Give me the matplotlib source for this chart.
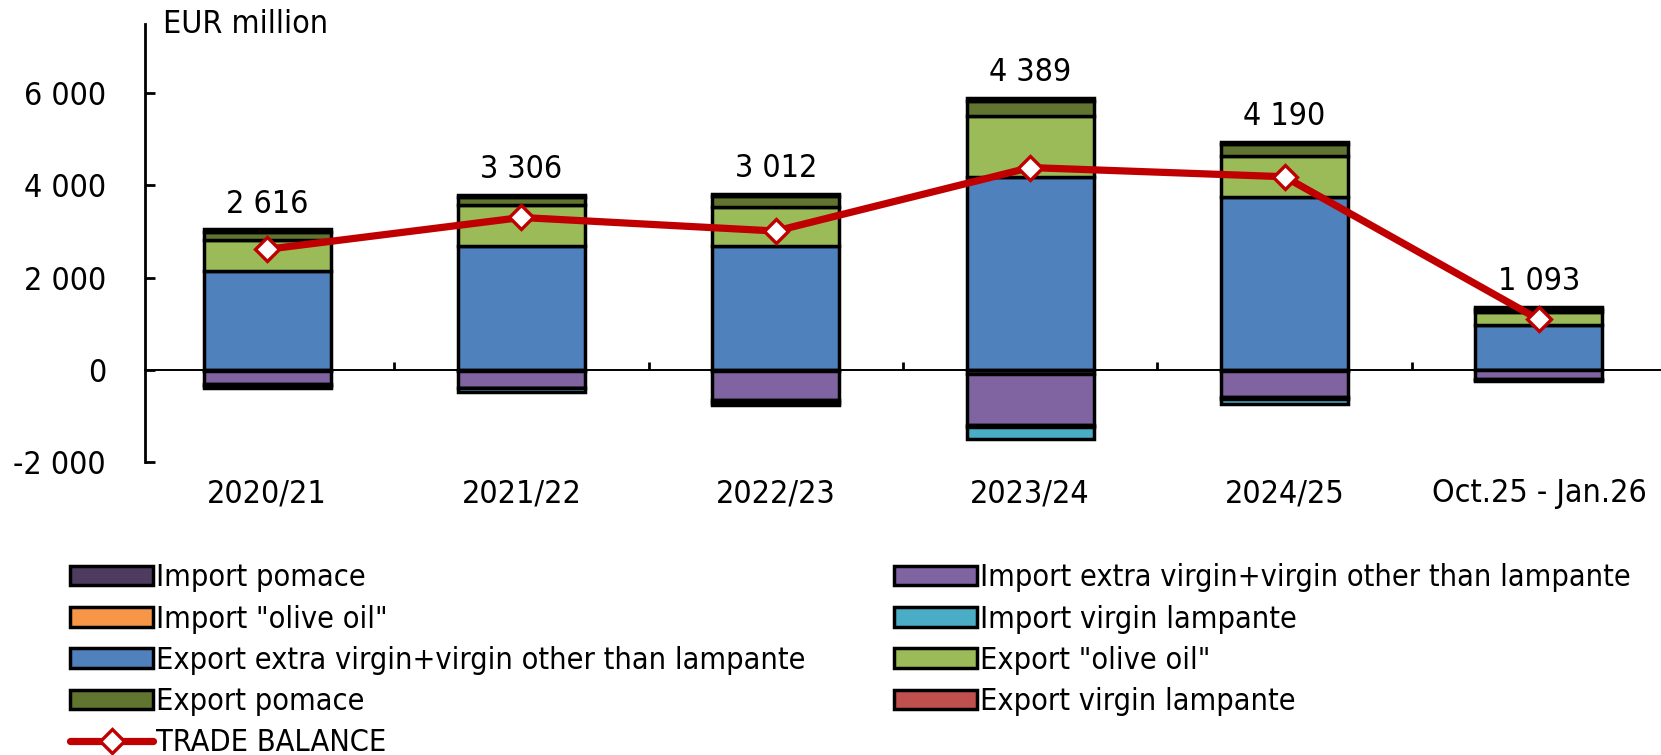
import numpy as np
import matplotlib
matplotlib.use("Agg")
import matplotlib.pyplot as plt
import matplotlib.transforms as mtransforms
from matplotlib.ticker import FuncFormatter, FixedLocator

plt.rcParams["font.family"] = ["DejaVu Sans"]
plt.rcParams["font.stretch"] = "condensed"

# marketing years
years = ["2020/21", "2021/22", "2022/23", "2023/24", "2024/25", "Oct.25 - Jan.26"]

# exports (EUR million), stacked upward from zero
exp_ev = [2140, 2690, 2680, 4180, 3760, 980]
exp_oo = [680, 880, 860, 1330, 880, 280]
exp_pomace = [180, 170, 230, 330, 250, 70]
exp_vl = [50, 50, 50, 60, 60, 40]

# imports (EUR million), stacked downward from zero
imp_pomace = [-20, -15, -20, -80, -15, -10]
imp_ev = [-290, -370, -640, -1120, -570, -180]
imp_oo = [-30, -10, -50, -40, -50, -20]
imp_vl = [-50, -90, -60, -250, -95, -40]

trade_balance = [2616, 3306, 3012, 4389, 4190, 1093]

fig = plt.figure(figsize=(16.61, 7.55), dpi=100)
ax = fig.add_axes([0.0873, 0.388, 0.9127, 0.58])

x = np.arange(len(years))
w = 0.5
kw = dict(width=w, edgecolor="black", linewidth=2.5, zorder=2)

handles = {}
bottom = np.zeros(len(years))
for vals, col, name in [(exp_ev, "#4F81BD", "Export extra virgin+virgin other than lampante"),
                        (exp_oo, "#9BBB59", 'Export "olive oil"'),
                        (exp_pomace, "#617530", "Export pomace"),
                        (exp_vl, "#C0504D", "Export virgin lampante")]:
    handles[name] = ax.bar(x, vals, bottom=bottom, color=col, label=name, **kw)
    bottom += np.array(vals)
top = bottom.copy()

bottom = np.zeros(len(years))
for vals, col, name in [(imp_pomace, "#4E3B60", "Import pomace"),
                        (imp_ev, "#8064A2", "Import extra virgin+virgin other than lampante"),
                        (imp_oo, "#F79646", 'Import "olive oil"'),
                        (imp_vl, "#4BACC6", "Import virgin lampante")]:
    handles[name] = ax.bar(x, vals, bottom=bottom, color=col, label=name, **kw)
    bottom += np.array(vals)

line, = ax.plot(x, trade_balance, color="#C00000", lw=5.2, marker="D", ms=12,
                mfc="white", mec="#C00000", mew=2.4, zorder=4, label="TRADE BALANCE",
                solid_capstyle="round")
handles["TRADE BALANCE"] = line

for xi, t, tb in zip(x, top, trade_balance):
    ax.annotate(f"{tb:,}".replace(",", " "), (xi, t), xytext=(0, 7),
                textcoords="offset points", ha="center", va="bottom", fontsize=23)

ax.set_xlim(-0.48, 5.48)
ax.set_ylim(-2000, 7500)
ax.set_yticks([-2000, 0, 2000, 4000, 6000])
ax.yaxis.set_major_formatter(FuncFormatter(lambda v, p: f"{int(v):,}".replace(",", " ")))
ax.tick_params(axis="y", direction="in", length=7, width=2, labelsize=23, pad=28)

# category axis sits at zero, with boundary ticks pointing up
ax.spines["bottom"].set_position(("data", 0))
ax.spines["bottom"].set_linewidth(1.4)
ax.spines["left"].set_linewidth(2)
ax.spines["top"].set_visible(False)
ax.spines["right"].set_visible(False)
ax.xaxis.set_major_locator(FixedLocator(x + 0.5))
ax.tick_params(axis="x", direction="in", length=6, width=2, labelbottom=False)

trans = mtransforms.blended_transform_factory(ax.transData, ax.transAxes)
for xi, lab in zip(x, years):
    ax.text(xi, -0.072, lab, transform=trans, ha="center", va="center", fontsize=23)

ax.text(0.012, 1.0, "EUR million", transform=ax.transAxes, ha="left", va="center", fontsize=23)

order = ["Import pomace", 'Import "olive oil"', "Export extra virgin+virgin other than lampante",
         "Export pomace", "TRADE BALANCE",
         "Import extra virgin+virgin other than lampante", "Import virgin lampante",
         'Export "olive oil"', "Export virgin lampante"]
leg = fig.legend([handles[k] for k in order], order, ncol=2, loc="upper left",
                 bbox_to_anchor=(0.035, 0.27), frameon=False, fontsize=22,
                 handlelength=2.7, handleheight=0.6, handletextpad=0.1,
                 labelspacing=0.4, columnspacing=2.9, borderaxespad=0)

fig.savefig("out.png", dpi=100)
